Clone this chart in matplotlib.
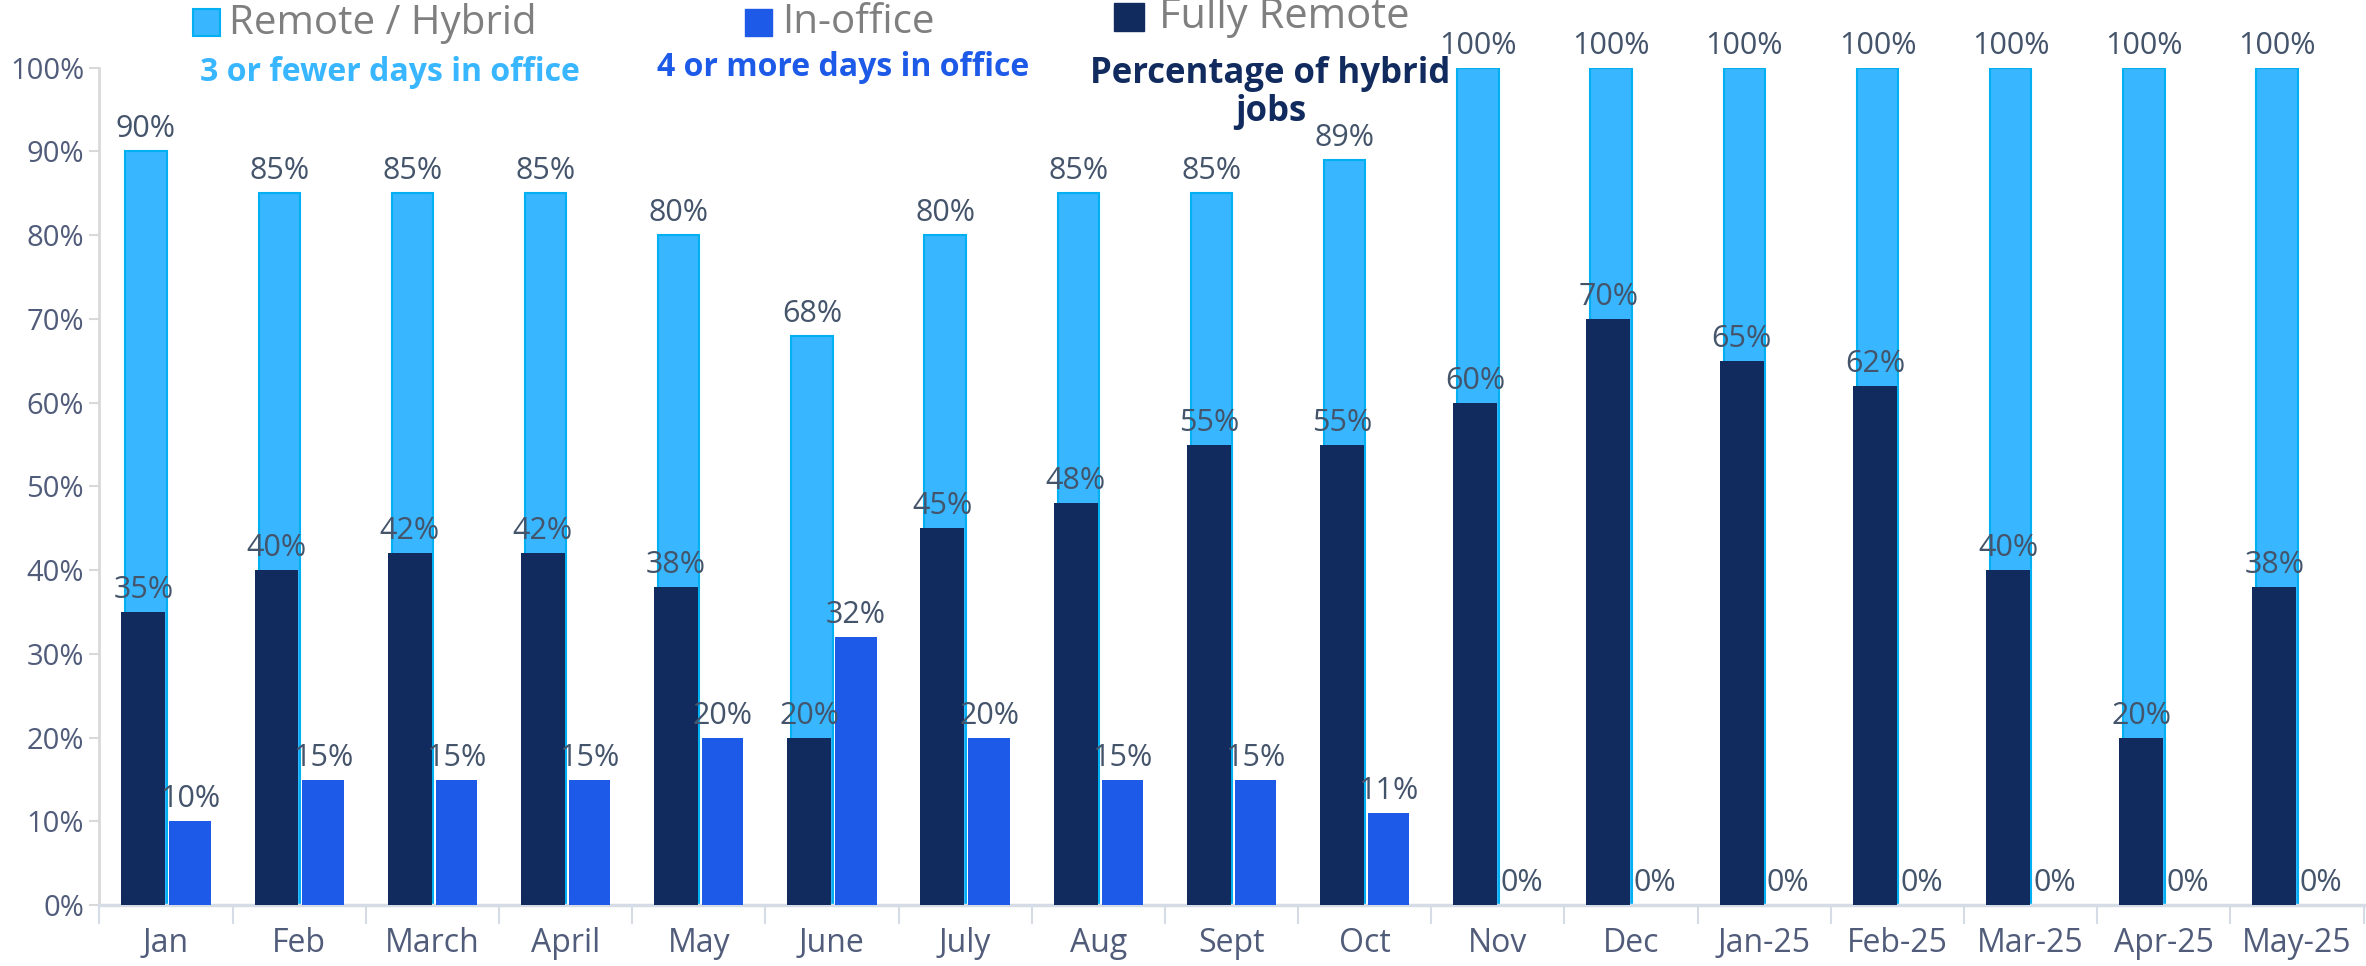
import numpy as np
import matplotlib
matplotlib.use("Agg")
import matplotlib.pyplot as plt
from matplotlib.patches import Rectangle
from matplotlib.ticker import PercentFormatter

plt.rcParams['font.family'] = ['Open Sans', 'DejaVu Sans']

# data
months = ["Jan", "Feb", "March", "April", "May", "June", "July", "Aug", "Sept", "Oct",
          "Nov", "Dec", "Jan-25", "Feb-25", "Mar-25", "Apr-25", "May-25"]
remote_hybrid = [90, 85, 85, 85, 80, 68, 80, 85, 85, 89, 100, 100, 100, 100, 100, 100, 100]
fully_remote = [35, 40, 42, 42, 38, 20, 45, 48, 55, 55, 60, 70, 65, 62, 40, 20, 38]
in_office = [10, 15, 15, 15, 20, 32, 20, 15, 15, 11, 0, 0, 0, 0, 0, 0, 0]

c_light = "#38B6FF"
c_edge = "#00B0F0"
c_navy = "#112B5F"
c_blue = "#1E5AE8"
c_text = "#44546A"
c_tick = "#505C7A"
c_legend = "#7F7F7F"

fig = plt.figure(figsize=(23.66, 9.66), dpi=100)
ax = fig.add_axes([0.042, 0.063, 0.957, 0.867])

x = np.arange(len(months))
rh = np.array(remote_hybrid) / 100
fr = np.array(fully_remote) / 100
io = np.array(in_office) / 100

b1 = ax.bar(x - 0.15, rh, width=0.31, color=c_light, edgecolor=c_edge, linewidth=1.5, zorder=2)
b2 = ax.bar(x - 0.17, fr, width=0.33, color=c_navy, zorder=3)
b3 = ax.bar(x + 0.18, io, width=0.31, color=c_blue, zorder=3)

fmt = lambda v: f"{round(v * 100):d}%"
for bars in (b1, b2, b3):
    ax.bar_label(bars, labels=[fmt(b.get_height()) for b in bars], padding=5,
                 fontsize=22, color=c_text, zorder=5)

ax.set_xlim(-0.5, len(months) - 0.5)
ax.set_ylim(0, 1.0)
ax.set_yticks(np.arange(0, 1.01, 0.1))
ax.yaxis.set_major_formatter(PercentFormatter(1.0, decimals=0))
ax.tick_params(axis='y', labelsize=21, labelcolor=c_tick, color="#D9D9D9", length=7, width=1.5, pad=4)

ax.set_xticks(x, months)
ax.set_xticks(np.arange(-0.5, len(months)), minor=True)
ax.tick_params(axis='x', which='major', length=0, labelsize=23, labelcolor=c_tick, pad=16)
ax.tick_params(axis='x', which='minor', length=14, color="#D6DCE5", width=1.5)

for s in ("top", "right"):
    ax.spines[s].set_visible(False)
ax.spines["left"].set_color("#D9D9D9")
ax.spines["left"].set_linewidth(2)
ax.spines["bottom"].set_color("#D6DCE5")
ax.spines["bottom"].set_linewidth(2.5)

# legend / header
fig.patches.append(Rectangle((0.0816, 0.963), 0.0112, 0.028, transform=fig.transFigure,
                             facecolor=c_light, edgecolor=c_edge, linewidth=1.5))
fig.text(0.0969, 0.976, "Remote / Hybrid", fontsize=29, color=c_legend, va="center", ha="left")
fig.patches.append(Rectangle((0.315, 0.963), 0.0112, 0.028, transform=fig.transFigure,
                             facecolor=c_blue, edgecolor=c_blue))
fig.text(0.3305, 0.976, "In-office", fontsize=29, color=c_legend, va="center", ha="left")
fig.patches.append(Rectangle((0.471, 0.968), 0.0125, 0.029, transform=fig.transFigure,
                             facecolor=c_navy, edgecolor=c_navy))
fig.text(0.490, 0.982, "Fully Remote", fontsize=30, color=c_legend, va="center", ha="left")

fig.text(0.1646, 0.925, "3 or fewer days in office", fontsize=23, fontweight="bold",
         color=c_light, ha="center", va="center")
fig.text(0.3565, 0.930, "4 or more days in office", fontsize=23, fontweight="bold",
         color=c_blue, ha="center", va="center")
fig.text(0.537, 0.923, "Percentage of hybrid", fontsize=25, fontweight="bold",
         color=c_navy, ha="center", va="center")
fig.text(0.537, 0.884, "jobs", fontsize=25, fontweight="bold",
         color=c_navy, ha="center", va="center")

fig.savefig("out.png", dpi=100)
